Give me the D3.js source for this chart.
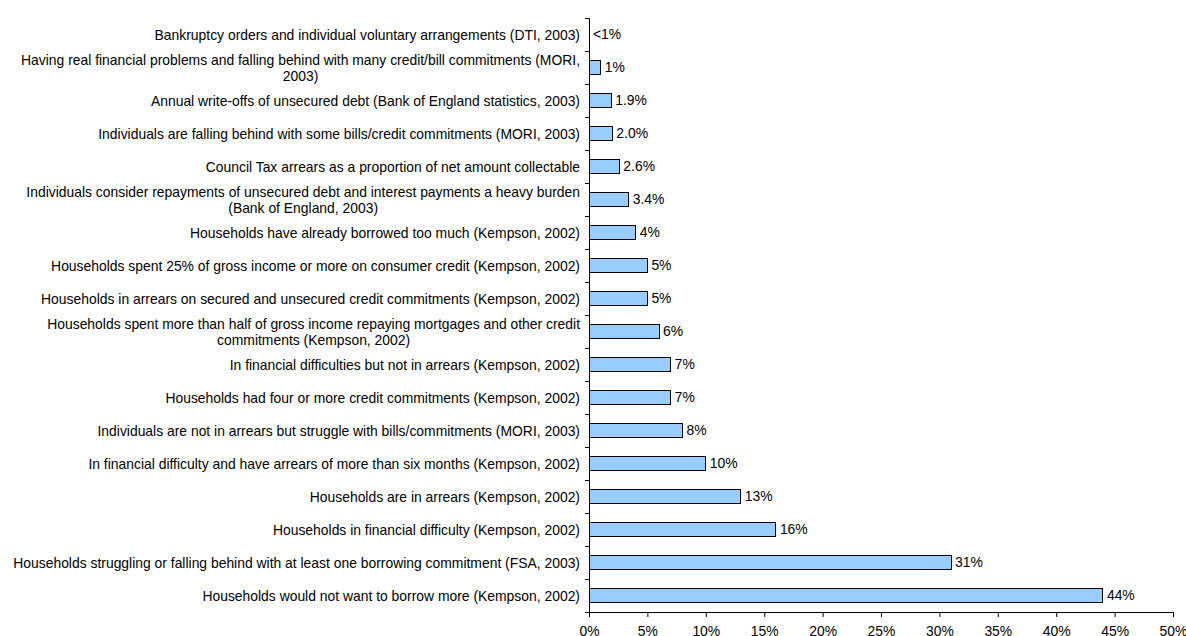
<!DOCTYPE html>
<meta charset="utf-8">
<head>
    <title>Financial difficulty indicators</title>
</head>
<style>
    body { margin: 0; background: #fff; }
    text { font-family: "Liberation Sans", Arial, sans-serif; fill: #000; }
</style>
<body>
    <svg></svg>
    <script src="https://cdnjs.cloudflare.com/ajax/libs/d3/7.8.5/d3.min.js"></script>
    <script>
        // Data
        var categories = [
            "Bankruptcy orders and individual voluntary arrangements (DTI, 2003)",
            "Having real financial problems and falling behind with many credit/bill commitments (MORI, 2003)",
            "Annual write-offs of unsecured debt (Bank of England statistics, 2003)",
            "Individuals are falling behind with some bills/credit commitments (MORI, 2003)",
            "Council Tax arrears as a proportion of net amount collectable",
            "Individuals consider repayments of unsecured debt and interest payments a heavy burden (Bank of England, 2003)",
            "Households have already borrowed too much (Kempson, 2002)",
            "Households spent 25% of gross income or more on consumer credit (Kempson, 2002)",
            "Households in arrears on secured and unsecured credit commitments (Kempson, 2002)",
            "Households spent more than half of gross income repaying mortgages and other credit commitments (Kempson, 2002)",
            "In financial difficulties but not in arrears (Kempson, 2002)",
            "Households had four or more credit commitments (Kempson, 2002)",
            "Individuals are not in arrears but struggle with bills/commitments (MORI, 2003)",
            "In financial difficulty and have arrears of more than six months (Kempson, 2002)",
            "Households are in arrears (Kempson, 2002)",
            "Households in financial difficulty (Kempson, 2002)",
            "Households struggling or falling behind with at least one borrowing commitment (FSA, 2003)",
            "Households would not want to borrow more (Kempson, 2002)"
        ];
        var values = [0, 1, 1.9, 2.0, 2.6, 3.4, 4, 5, 5, 6, 7, 7, 8, 10, 13, 16, 31, 44];
        var valueLabels = ["<1%", "1%", "1.9%", "2.0%", "2.6%", "3.4%", "4%", "5%", "5%", "6%",
            "7%", "7%", "8%", "10%", "13%", "16%", "31%", "44%"];
        var xTicks = [0, 5, 10, 15, 20, 25, 30, 35, 40, 45, 50];

        // Layout
        var width = 1186, height = 636;
        var x0 = 589, x1 = 1173, yTop = 18, yBottom = 612;
        var fontSize = 13.9;
        var wrapWidth = 577;

        var svg = d3.select('svg')
            .attr('width', width)
            .attr('height', height);

        var x = d3.scaleLinear().domain([0, 50]).range([x0, x1]);
        var y = d3.scaleBand().domain(d3.range(categories.length)).range([yTop, yBottom]).paddingInner(0.58).paddingOuter(0.29);
        var yEdges = d3.scaleLinear().domain([0, categories.length]).range([yTop, yBottom]);

        // Bars
        svg.append('g')
            .selectAll('rect')
            .data(values)
            .enter()
            .append('rect')
            .attr('x', x(0))
            .attr('y', (d, i) => y(i))
            .attr('width', d => x(d) - x(0))
            .attr('height', y.bandwidth())
            .attr('fill', '#99ccff')
            .attr('stroke', '#000')
            .attr('stroke-width', 1)
            .attr('shape-rendering', 'crispEdges');

        // Value labels
        svg.append('g')
            .selectAll('text')
            .data(values)
            .enter()
            .append('text')
            .attr('x', d => x(d) + 4)
            .attr('y', (d, i) => y(i) + y.bandwidth() / 2)
            .attr('dy', '0.35em')
            .attr('font-size', fontSize)
            .text((d, i) => valueLabels[i]);

        // X axis
        var xAxis = svg.append('g')
            .attr('transform', `translate(0, ${yBottom})`)
            .call(d3.axisBottom(x).tickValues(xTicks).tickFormat(d => d + '%').tickSize(5).tickPadding(9));
        xAxis.selectAll('text').attr('font-size', fontSize).attr('font-family', '"Liberation Sans", Arial, sans-serif').attr('fill', '#000');

        // Y axis (ticks at category edges)
        svg.append('g')
            .attr('transform', `translate(${x0}, 0)`)
            .call(d3.axisLeft(yEdges).tickValues(d3.range(categories.length + 1)).tickFormat('').tickSize(4));

        svg.selectAll('.domain').attr('stroke', '#000');
        svg.selectAll('.tick line').attr('stroke', '#000');

        // Category labels, wrapped and centred like the original
        var labels = svg.append('g');
        categories.forEach((cat, i) => {
            var t = labels.append('text').attr('font-size', fontSize);
            var words = cat.split(' ');
            var lines = [];
            var line = [];
            words.forEach(w => {
                line.push(w);
                t.text(line.join(' '));
                if (t.node().getComputedTextLength() > wrapWidth && line.length > 1) {
                    line.pop();
                    lines.push(line.join(' '));
                    line = [w];
                }
            });
            lines.push(line.join(' '));
            t.text(null);
            var widths = lines.map(l => { t.text(l); return t.node().getComputedTextLength(); });
            t.text(null);
            var blockW = d3.max(widths);
            var right = x0 - 9;
            var cx = right - blockW / 2;
            var lineH = 16.5;
            var cy = y(i) + y.bandwidth() / 2 + 0.5;
            lines.forEach((l, k) => {
                t.append('tspan')
                    .attr('x', lines.length > 1 ? cx : right)
                    .attr('y', cy + (k - (lines.length - 1) / 2) * lineH)
                    .attr('dy', '0.35em')
                    .attr('text-anchor', lines.length > 1 ? 'middle' : 'end')
                    .text(l);
            });
        });
    </script>
</body>
</html>
